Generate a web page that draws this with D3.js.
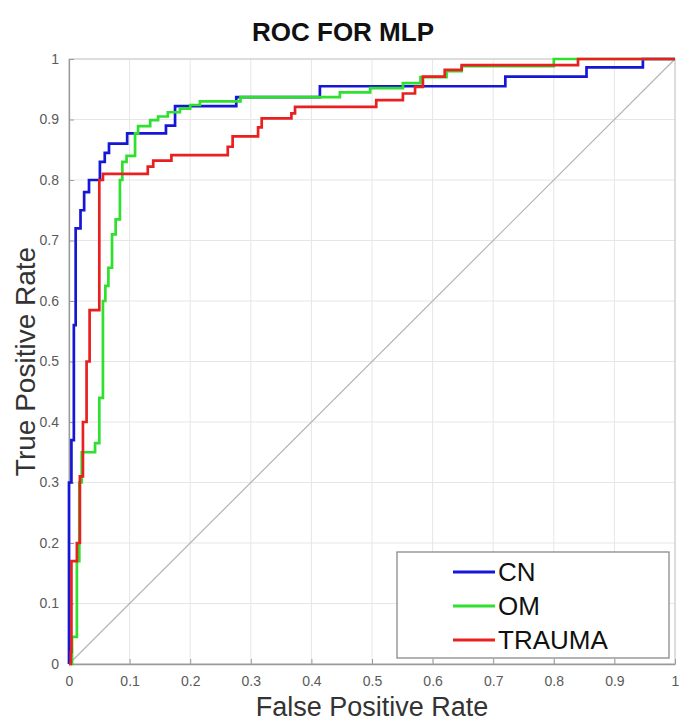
<!DOCTYPE html>
<html>
<head>
<meta charset="utf-8">
<script src="https://cdn.jsdelivr.net/npm/d3@7"></script>
<style>
  html, body { margin: 0; padding: 0; background: #fff; }
  svg { display: block; font-family: "Liberation Sans", Arial, sans-serif; }
</style>
</head>
<body>
<svg id="chart" width="681" height="722"></svg>
<script>
// ROC operating points [false positive rate, true positive rate];
// each point is where the curve rises to that TPR.
const cnPoints = [
  [0, 0], [0, 0.30], [0.004, 0.37], [0.008, 0.56], [0.011, 0.72], [0.019, 0.75],
  [0.025, 0.78], [0.033, 0.80], [0.051, 0.83], [0.059, 0.845], [0.066, 0.86],
  [0.096, 0.877], [0.16, 0.89], [0.175, 0.922], [0.276, 0.937], [0.414, 0.955],
  [0.72, 0.971], [0.854, 0.986], [0.947, 1], [1, 1]
];
const omPoints = [
  [0, 0], [0.005, 0.045], [0.013, 0.17], [0.017, 0.30], [0.021, 0.35], [0.043, 0.365],
  [0.05, 0.44], [0.056, 0.60], [0.06, 0.625], [0.065, 0.655], [0.071, 0.71],
  [0.077, 0.735], [0.084, 0.80], [0.088, 0.83], [0.095, 0.84], [0.109, 0.877],
  [0.114, 0.889], [0.134, 0.899], [0.147, 0.905], [0.163, 0.912], [0.183, 0.918],
  [0.2, 0.924], [0.216, 0.93], [0.283, 0.937], [0.447, 0.945], [0.497, 0.952],
  [0.551, 0.96], [0.58, 0.97], [0.623, 0.98], [0.648, 0.988], [0.80, 1], [1, 1]
];
const traumaPoints = [
  [0, 0], [0.003, 0.02], [0.004, 0.17], [0.013, 0.20], [0.018, 0.31], [0.023, 0.40],
  [0.029, 0.50], [0.034, 0.585], [0.05, 0.80], [0.056, 0.81], [0.13, 0.822],
  [0.139, 0.832], [0.169, 0.841], [0.262, 0.855], [0.27, 0.872], [0.312, 0.887],
  [0.318, 0.902], [0.367, 0.91], [0.373, 0.921], [0.507, 0.932], [0.551, 0.943],
  [0.571, 0.954], [0.584, 0.971], [0.62, 0.982], [0.648, 0.99], [0.84, 1], [1, 1]
];
const seriesNames = ["CN", "OM", "TRAUMA"];
const seriesColors = ["#1616d6", "#2fe02f", "#e82020"];
const tickValues = [0, 0.1, 0.2, 0.3, 0.4, 0.5, 0.6, 0.7, 0.8, 0.9, 1];
const tickLabels = ["0", "0.1", "0.2", "0.3", "0.4", "0.5", "0.6", "0.7", "0.8", "0.9", "1"];

const series = [cnPoints, omPoints, traumaPoints].map((pts, i) => ({
  name: seriesNames[i], color: seriesColors[i], points: pts
}));

const svg = d3.select("#chart");
const margin = { left: 69, right: 6, top: 59, bottom: 58 };
const W = 681, H = 722;
const x = d3.scaleLinear().domain([0, 1]).range([margin.left, W - margin.right]);
const y = d3.scaleLinear().domain([0, 1]).range([H - margin.bottom, margin.top]);
const fmt = v => tickLabels[tickValues.indexOf(v)];

// grid
const grid = svg.append("g");
grid.selectAll(".gx").data(tickValues).join("line")
  .attr("x1", d => x(d)).attr("x2", d => x(d))
  .attr("y1", y(0)).attr("y2", y(1))
  .attr("stroke", "#e6e6e6").attr("stroke-width", 1);
grid.selectAll(".gy").data(tickValues).join("line")
  .attr("x1", x(0)).attr("x2", x(1))
  .attr("y1", d => y(d)).attr("y2", d => y(d))
  .attr("stroke", "#e6e6e6").attr("stroke-width", 1);

// frame
svg.append("rect")
  .attr("x", x(0)).attr("y", y(1))
  .attr("width", x(1) - x(0)).attr("height", y(0) - y(1))
  .attr("fill", "none").attr("stroke", "#c8c8c8");

// chance line
svg.append("line")
  .attr("x1", x(0)).attr("y1", y(0)).attr("x2", x(1)).attr("y2", y(1))
  .attr("stroke", "#b4b4b4").attr("stroke-width", 1.2);

// axes
const xAxis = svg.append("g")
  .attr("transform", `translate(0,${y(0)})`)
  .call(d3.axisBottom(x).tickValues(tickValues).tickFormat(fmt).tickSizeInner(-5).tickSizeOuter(0).tickPadding(12));
const yAxis = svg.append("g")
  .attr("transform", `translate(${x(0)},0)`)
  .call(d3.axisLeft(y).tickValues(tickValues).tickFormat(fmt).tickSizeInner(-5).tickSizeOuter(0).tickPadding(10));
[xAxis, yAxis].forEach(g => {
  g.select(".domain").attr("stroke", "#9a9a9a").attr("stroke-width", 1.3);
  g.selectAll(".tick line").attr("stroke", "#9a9a9a");
  g.selectAll(".tick text").attr("fill", "#5a5a5a").style("font-size", "14px")
    .style("font-family", "'Liberation Sans', Arial, sans-serif");
});

// ROC curves
const line = d3.line().x(d => x(d[0])).y(d => y(d[1])).curve(d3.curveStepAfter);
svg.append("g").selectAll("path").data(series).join("path")
  .attr("d", d => line(d.points))
  .attr("fill", "none")
  .attr("stroke", d => d.color)
  .attr("stroke-width", 2.7)
  .attr("stroke-linejoin", "miter");

// legend
const lg = svg.append("g");
lg.append("rect")
  .attr("x", 397).attr("y", 552).attr("width", 272).attr("height", 106)
  .attr("fill", "#fff").attr("stroke", "#8a8a8a").attr("stroke-width", 1.3);
const items = lg.selectAll("g.item").data(series).join("g")
  .attr("transform", (d, i) => `translate(0,${572 + i * 34})`);
items.append("line")
  .attr("x1", 453).attr("x2", 495).attr("y1", 0).attr("y2", 0)
  .attr("stroke", d => d.color).attr("stroke-width", 3);
items.append("text")
  .attr("x", 498).attr("y", 0).attr("dy", "0.36em")
  .attr("fill", "#111").style("font-size", "26px")
  .text(d => d.name);

// titles
svg.append("text")
  .attr("x", 343).attr("y", 41).attr("text-anchor", "middle")
  .style("font-size", "26px").style("font-weight", "bold").attr("fill", "#111")
  .text("ROC FOR MLP");
svg.append("text")
  .attr("x", (x(0) + x(1)) / 2).attr("y", 716).attr("text-anchor", "middle")
  .style("font-size", "27px").attr("fill", "#333")
  .text("False Positive Rate");
svg.append("text")
  .attr("transform", `translate(35,${(y(0) + y(1)) / 2}) rotate(-90)`)
  .attr("text-anchor", "middle")
  .style("font-size", "28px").attr("fill", "#333")
  .text("True Positive Rate");
</script>
</body>
</html>
